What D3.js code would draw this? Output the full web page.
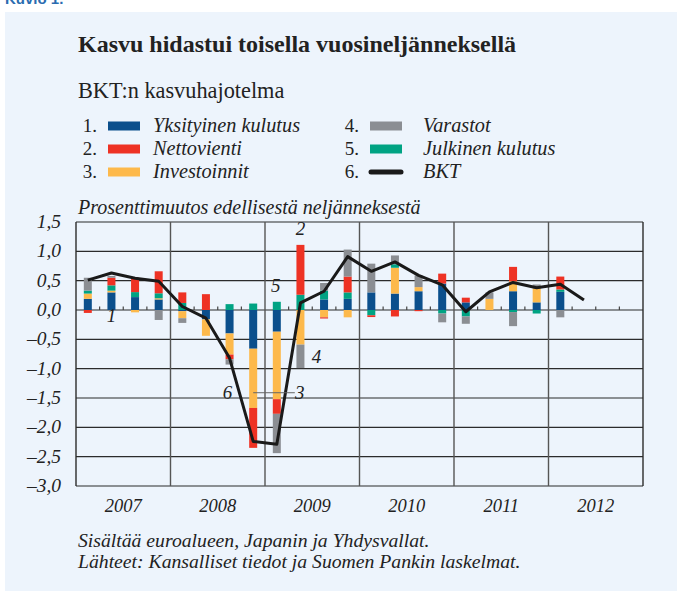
<!DOCTYPE html>
<html>
<head>
<meta charset="utf-8">
<script src="https://cdn.jsdelivr.net/npm/d3@7"></script>
<style>
  body { margin: 0; background: #fff; }
  text { font-family: "Liberation Serif", "Times New Roman", serif; fill: #222; }
</style>
</head>
<body>
<div id="chart"></div>
<script>
//////////////////////////////////////////////////////////////////////////////
// Data: quarterly contributions to GDP growth (percentage points)

const quarters = [
  "2007Q1","2007Q2","2007Q3","2007Q4",
  "2008Q1","2008Q2","2008Q3","2008Q4",
  "2009Q1","2009Q2","2009Q3","2009Q4",
  "2010Q1","2010Q2","2010Q3","2010Q4",
  "2011Q1","2011Q2","2011Q3","2011Q4",
  "2012Q1","2012Q2","2012Q3","2012Q4"
];
const years = ["2007","2008","2009","2010","2011","2012"];
const yTicks = [1.5, 1.0, 0.5, 0.0, -0.5, -1.0, -1.5, -2.0, -2.5, -3.0];

// bars 2007Q1 .. 2012Q1
const yksityinen = [0.19, 0.30, 0.22, 0.18, -0.02, -0.16, -0.40, -0.66, -0.37, 0.00, 0.18, 0.19,
                    0.30, 0.28, 0.32, 0.45, 0.13, 0.00, 0.32, 0.13, 0.31];
const nettovienti = [-0.05, 0.13, 0.245, 0.375, 0.18, 0.27, -0.08, -0.68, -0.25, 0.85, -0.02, 0.27,
                     -0.03, -0.11, -0.02, 0.17, 0.08, 0.00, 0.245, 0.00, 0.22];
const investoinnit = [0.09, 0.03, -0.04, 0.02, -0.12, -0.28, -0.36, -1.01, -1.15, -0.59, -0.125, -0.125,
                      0.00, 0.44, 0.07, 0.00, 0.00, 0.19, 0.17, 0.235, 0.00];
const varastot = [0.22, 0.03, 0.00, -0.17, -0.08, 0.00, -0.09, 0.00, -0.67, -0.40, 0.13, 0.46,
                  0.49, 0.15, 0.20, -0.15, -0.125, 0.11, -0.24, 0.07, -0.125];
const julkinen = [0.05, 0.09, 0.085, 0.085, 0.12, 0.00, 0.10, 0.11, 0.14, 0.26, 0.15, 0.11,
                  -0.09, 0.06, 0.00, -0.06, -0.11, 0.00, -0.035, -0.06, 0.04];
// line 2007Q1 .. 2012Q2
const bkt = [0.51, 0.63, 0.54, 0.49, 0.06, -0.14, -0.82, -2.24, -2.29, 0.12, 0.32, 0.91,
             0.66, 0.82, 0.59, 0.43, -0.03, 0.31, 0.47, 0.38, 0.44, 0.17];

const series = [
  { key: "yks", num: "1.", name: "Yksityinen kulutus", color: "#0b4f8c", values: yksityinen },
  { key: "net", num: "2.", name: "Nettovienti", color: "#ee3224", values: nettovienti },
  { key: "inv", num: "3.", name: "Investoinnit", color: "#fdb94b", values: investoinnit },
  { key: "var", num: "4.", name: "Varastot", color: "#8b8e93", values: varastot },
  { key: "jul", num: "5.", name: "Julkinen kulutus", color: "#00a383", values: julkinen }
];
// stacking order seen in the bars (from zero outwards)
const stackOrder = ["yks", "inv", "jul", "net", "var"];

const table = yksityinen.map((_, i) => {
  const row = { q: quarters[i] };
  series.forEach(s => row[s.key] = s.values[i]);
  return row;
});

//////////////////////////////////////////////////////////////////////////////
// Canvas

const width = 677, height = 591;
const plot = { left: 76, right: 643, top: 222, bottom: 486 };
const barW = 8;

const svg = d3.select("#chart").append("svg")
    .attr("width", width)
    .attr("height", height);

svg.append("rect")
    .attr("x", 5).attr("y", 12)
    .attr("width", width - 5).attr("height", height - 12)
    .attr("fill", "#edf4fc");

svg.append("text")
    .attr("x", 5).attr("y", 4)
    .style("font-family", "'Liberation Sans', Arial, sans-serif")
    .style("font-weight", "bold")
    .style("font-size", "15px")
    .style("fill", "#2a6cb0")
    .text("Kuvio 1.");

svg.append("text")
    .attr("x", 78).attr("y", 52)
    .style("font-weight", "bold")
    .style("font-size", "24px")
    .text("Kasvu hidastui toisella vuosineljänneksellä");

svg.append("text")
    .attr("x", 78).attr("y", 98)
    .style("font-size", "22.3px")
    .text("BKT:n kasvuhajotelma");

//////////////////////////////////////////////////////////////////////////////
// Legend

const legendItems = series.map(s => ({ num: s.num, name: s.name, color: s.color, line: false }))
    .concat([{ num: "6.", name: "BKT", color: "#1a1a1a", line: true }]);

const legend = svg.append("g")
    .style("font-size", "20.3px")
    .style("font-style", "italic");

legendItems.forEach((d, i) => {
  const col = Math.floor(i / 3), row = i % 3;
  const gx = col === 0 ? 0 : 262;
  const cy = 126 + row * 23;
  const g = legend.append("g").attr("transform", `translate(${gx},${cy})`);
  g.append("text").attr("x", 97).attr("y", 6).attr("text-anchor", "end")
      .style("font-style", "normal").style("font-size", "19px").text(d.num);
  if (d.line) {
    g.append("line").attr("x1", 109).attr("x2", 139).attr("y1", 0).attr("y2", 0)
        .attr("stroke", d.color).attr("stroke-width", 5).attr("stroke-linecap", "round");
  } else {
    g.append("rect").attr("x", 108).attr("y", -4.5).attr("width", 32).attr("height", 9)
        .attr("fill", d.color);
  }
  g.append("text").attr("x", col === 0 ? 153 : 161).attr("y", 6).text(d.name);
});

svg.append("text")
    .attr("x", 78).attr("y", 214)
    .style("font-size", "20px")
    .style("font-style", "italic")
    .text("Prosenttimuutos edellisestä neljänneksestä");

//////////////////////////////////////////////////////////////////////////////
// Scales and axes

const x = d3.scaleBand()
    .domain(quarters)
    .range([plot.left, plot.right]);

const y = d3.scaleLinear()
    .domain([-3, 1.5])
    .range([plot.bottom, plot.top]);

const fmt = d3.formatLocale({ decimal: ",", thousands: " ", grouping: [3],
                              currency: ["", ""], minus: "–" }).format(".1f");

const grid = svg.append("g");

grid.selectAll("line.h")
    .data(yTicks)
    .join("line")
    .attr("class", "h")
    .attr("x1", plot.left).attr("x2", plot.right)
    .attr("y1", d => y(d)).attr("y2", d => y(d))
    .attr("stroke", "#2b2b2b")
    .attr("stroke-width", 1.2);

// year separators
grid.selectAll("line.v")
    .data(years.slice(1))
    .join("line")
    .attr("class", "v")
    .attr("x1", d => x(d + "Q1")).attr("x2", d => x(d + "Q1"))
    .attr("y1", plot.top).attr("y2", plot.bottom)
    .attr("stroke", "#555")
    .attr("stroke-width", 1.4);

// frame sides
grid.selectAll("line.side")
    .data([plot.left, plot.right])
    .join("line")
    .attr("x1", d => d).attr("x2", d => d)
    .attr("y1", plot.top).attr("y2", plot.bottom)
    .attr("stroke", "#2b2b2b")
    .attr("stroke-width", 1.4);

// little quarter ticks on the zero line
grid.selectAll("line.qt")
    .data(quarters.filter(q => !q.endsWith("Q1")))
    .join("line")
    .attr("x1", d => x(d)).attr("x2", d => x(d))
    .attr("y1", y(0) - 3.5).attr("y2", y(0))
    .attr("stroke", "#444")
    .attr("stroke-width", 1.2);

svg.append("g")
    .style("font-size", "19.5px")
    .style("font-style", "italic")
    .selectAll("text")
    .data(yTicks)
    .join("text")
    .attr("x", 61)
    .attr("y", d => y(d) + 6)
    .attr("text-anchor", "end")
    .text(d => fmt(d));

svg.append("g")
    .style("font-size", "18.5px")
    .style("font-style", "italic")
    .selectAll("text")
    .data(years)
    .join("text")
    .attr("x", d => x(d + "Q1") + x.step() * 2)
    .attr("y", 512)
    .attr("text-anchor", "middle")
    .text(d => d);

//////////////////////////////////////////////////////////////////////////////
// Bars

const stacked = d3.stack()
    .keys(stackOrder)
    .offset(d3.stackOffsetDiverging)(table);

const colorOf = k => series.find(s => s.key === k).color;

svg.append("g")
    .selectAll("g")
    .data(stacked)
    .join("g")
    .attr("fill", d => colorOf(d.key))
    .selectAll("rect")
    .data(d => d.filter(p => p[1] !== p[0]))
    .join("rect")
    .attr("x", d => x(d.data.q) + x.bandwidth() / 2 - barW / 2)
    .attr("width", barW)
    .attr("y", d => y(Math.max(d[0], d[1])))
    .attr("height", d => Math.abs(y(d[0]) - y(d[1])));

//////////////////////////////////////////////////////////////////////////////
// BKT line

const line = d3.line()
    .x((d, i) => x(quarters[i]) + x.bandwidth() / 2)
    .y(d => y(d));

svg.append("path")
    .datum(bkt)
    .attr("d", line)
    .attr("fill", "none")
    .attr("stroke", "#1a1a1a")
    .attr("stroke-width", 3)
    .attr("stroke-linejoin", "round");

//////////////////////////////////////////////////////////////////////////////
// Number annotations

const mid = q => x(q) + x.bandwidth() / 2;

svg.append("line")
    .attr("x1", mid("2008Q4")).attr("x2", mid("2009Q1") + 18)
    .attr("y1", y(-1.41)).attr("y2", y(-1.41))
    .attr("stroke", "#666").attr("stroke-width", 1);

const notes = [
  { t: "1", q: "2007Q2", dx: 0, v: -0.2 },
  { t: "2", q: "2009Q2", dx: 0, v: 1.28 },
  { t: "3", q: "2009Q1", dx: 23, v: -1.52 },
  { t: "4", q: "2009Q2", dx: 16, v: -0.9 },
  { t: "5", q: "2009Q1", dx: -1, v: 0.3 },
  { t: "6", q: "2008Q3", dx: -2, v: -1.52 }
];

svg.append("g")
    .style("font-size", "19px")
    .style("font-style", "italic")
    .selectAll("text")
    .data(notes)
    .join("text")
    .attr("x", d => mid(d.q) + d.dx)
    .attr("y", d => y(d.v))
    .attr("text-anchor", "middle")
    .text(d => d.t);

//////////////////////////////////////////////////////////////////////////////
// Footnotes

svg.append("g")
    .style("font-size", "19.7px")
    .style("font-style", "italic")
    .selectAll("text")
    .data(["Sisältää euroalueen, Japanin ja Yhdysvallat.",
           "Lähteet: Kansalliset tiedot ja Suomen Pankin laskelmat."])
    .join("text")
    .attr("x", 78)
    .attr("y", (d, i) => 547 + i * 21)
    .text(d => d);
</script>
</body>
</html>
